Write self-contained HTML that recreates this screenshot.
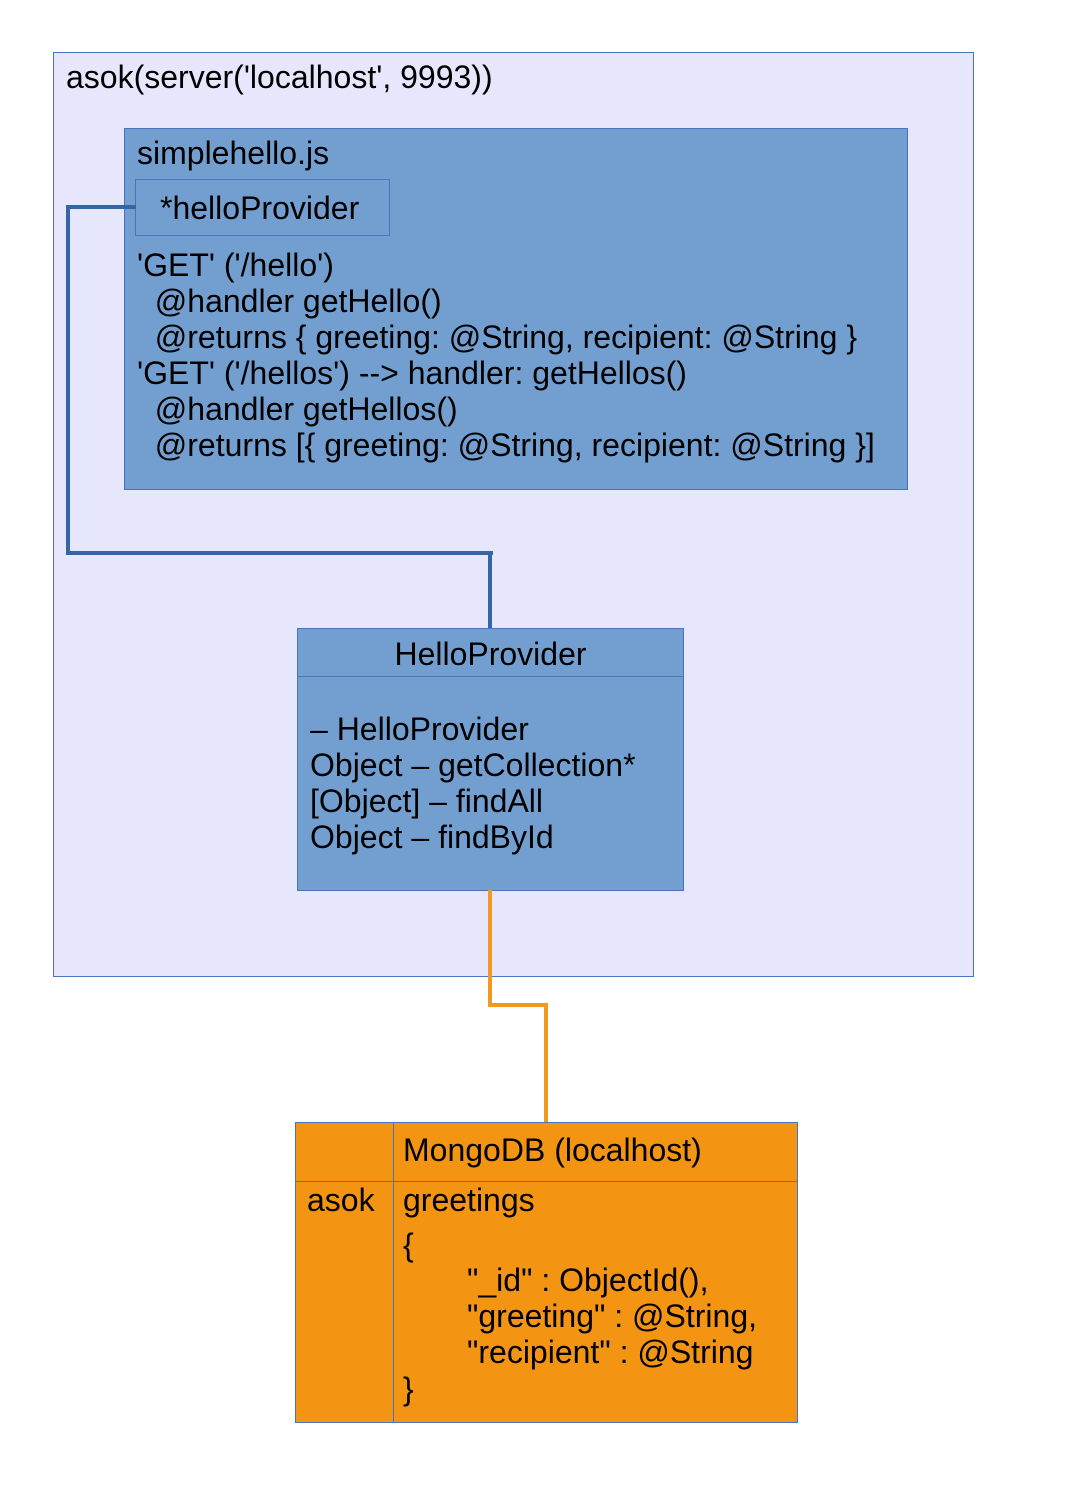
<!DOCTYPE html>
<html><head><meta charset="utf-8"><style>
body{margin:0;width:1067px;height:1508px;background:#fff;position:relative;font-family:"Liberation Sans",Arial,sans-serif;color:#000;overflow:hidden}
.a{position:absolute;box-sizing:border-box}
.t{position:absolute;white-space:pre;font-size:32px;line-height:36px}
.l{position:absolute;background:#3465a4}
.o{position:absolute;background:#f39a1e}
</style></head><body>
<div class="a" style="left:53px;top:52px;width:921px;height:925px;background:#e6e6fc;border:1px solid #4a74c0"></div>
<div class="t" style="left:66px;top:59px">asok(server('localhost', 9993))</div>
<div class="a" style="left:124px;top:128px;width:784px;height:362px;background:#729fcf;border:1px solid #4a74c0"></div>
<div class="t" style="left:137px;top:135px">simplehello.js</div>
<div class="a" style="left:135px;top:179px;width:255px;height:57px;border:1px solid #4a74c0"></div>
<div class="t" style="left:160px;top:190px">*helloProvider</div>
<div class="t" style="left:137px;top:247px">'GET' ('/hello')
  @handler getHello()
  @returns { greeting: @String, recipient: @String }
'GET' ('/hellos') --&gt; handler: getHellos()
  @handler getHellos()
  @returns [{ greeting: @String, recipient: @String }]</div>
<div class="l" style="left:66px;top:205px;width:70px;height:4px"></div>
<div class="l" style="left:66px;top:205px;width:4px;height:350px"></div>
<div class="l" style="left:66px;top:551px;width:427px;height:4px"></div>
<div class="l" style="left:488px;top:551px;width:4px;height:78px"></div>
<div class="a" style="left:297px;top:628px;width:387px;height:263px;background:#729fcf;border:1px solid #4a74c0"></div>
<div class="a" style="left:297px;top:676px;width:387px;height:1px;background:#4a74c0"></div>
<div class="t" style="left:297px;top:636px;width:387px;text-align:center">HelloProvider</div>
<div class="t" style="left:310px;top:711px">– HelloProvider
Object – getCollection*
[Object] – findAll
Object – findById</div>
<div class="o" style="left:488px;top:890px;width:4px;height:117px"></div>
<div class="o" style="left:488px;top:1003px;width:60px;height:4px"></div>
<div class="o" style="left:544px;top:1003px;width:4px;height:120px"></div>
<div class="a" style="left:295px;top:1122px;width:503px;height:301px;background:#f39512;border:1px solid #4a74c0"></div>
<div class="a" style="left:393px;top:1122px;width:1px;height:301px;background:#4a74c0"></div>
<div class="a" style="left:295px;top:1181px;width:503px;height:1px;background:#4a74c0"></div>
<div class="t" style="left:403px;top:1132px">MongoDB (localhost)</div>
<div class="t" style="left:307px;top:1182px">asok</div>
<div class="t" style="left:403px;top:1182px">greetings</div>
<div class="t" style="left:403px;top:1227px">{</div>
<div class="t" style="left:467px;top:1262px">"_id" : ObjectId(),
"greeting" : @String,
"recipient" : @String</div>
<div class="t" style="left:403px;top:1371px">}</div>
</body></html>
